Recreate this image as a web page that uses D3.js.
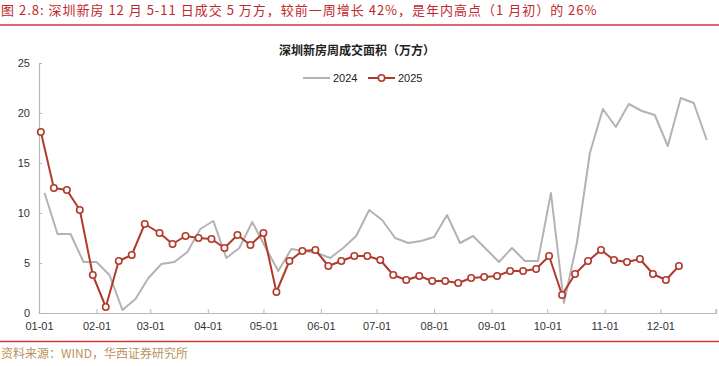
<!DOCTYPE html>
<html>
<head>
<meta charset="utf-8">
<script src="https://cdn.jsdelivr.net/npm/d3@7"></script>
<style>
  body { margin: 0; background: #fff; }
  svg { display: block; font-family: "Liberation Sans", Arial, sans-serif; }
</style>
</head>
<body>
<svg id="chart" width="719" height="366"></svg>
<script>
const W = 719;
const H = 366;

// weekly series, first week-end date of each year
const START_2024 = "2024-01-04";
const START_2025 = "2025-01-02";

const values2024 = [
  12.0, 7.9, 7.9, 5.1, 5.1, 3.8, 0.3, 1.4, 3.5, 4.9,
  5.1, 6.1, 8.4, 9.2, 5.5, 6.5, 9.1, 6.6, 4.2, 6.4,
  6.2, 6.0, 5.5, 6.5, 7.7, 10.3, 9.3, 7.5, 7.0, 7.2,
  7.6, 9.8, 7.0, 7.7, 6.4, 5.1, 6.5, 5.2, 5.2, 12.0,
  1.0, 7.0, 16.0, 20.4, 18.6, 20.9, 20.2, 19.8, 16.7, 21.5,
  21.0, 17.3
];

const values2025 = [
  18.1, 12.5, 12.3, 10.3, 3.8, 0.6, 5.2, 5.8, 8.9, 8.0,
  6.9, 7.7, 7.5, 7.4, 6.5, 7.8, 6.8, 8.0, 2.1, 5.2,
  6.2, 6.3, 4.7, 5.2, 5.7, 5.7, 5.3, 3.8, 3.3, 3.7,
  3.2, 3.2, 3.0, 3.5, 3.6, 3.7, 4.2, 4.2, 4.4, 5.7,
  1.8, 3.9, 5.2, 6.3, 5.3, 5.1, 5.4, 3.9, 3.3, 4.7
];

const yTicks = [0, 5, 10, 15, 20, 25];
const seriesNames = ["2024", "2025"];

const TITLE = "图 2.8:  深圳新房 12 月 5-11 日成交 5 万方，较前一周增长 42%，是年内高点（1 月初）的 26%";
const CHART_TITLE = "深圳新房周成交面积（万方）";
const SOURCE = "资料来源：WIND，华西证券研究所";

const RED = "#b23a2c";
const GRAY = "#b3b3b3";
const AXIS = "#b8b8b8";

const parse = d3.timeParse("%Y-%m-%d");

// put every week on the 2024 calendar (month/day kept)
function onAxisYear(d) {
  return new Date(2024, d.getMonth(), d.getDate());
}

function weekly(startStr, values) {
  const s = parse(startStr);
  return values.map((v, i) => ({ date: onAxisYear(d3.timeDay.offset(s, 7 * i)), value: v }));
}

const data2024 = weekly(START_2024, values2024);
const data2025 = weekly(START_2025, values2025);

const svg = d3.select("#chart");

const x = d3.scaleTime()
  .domain([new Date(2024, 0, 1), new Date(2024, 11, 31)])
  .range([39, 716]);
const y = d3.scaleLinear().domain([0, 25]).range([313, 63]);

// page title + rules
svg.append("text")
  .attr("x", 1).attr("y", 15)
  .attr("font-family", "'Noto Sans CJK SC', sans-serif")
  .attr("font-size", 13)
  .attr("letter-spacing", 1)
  .attr("fill", "#c0282d")
  .text(TITLE);
svg.append("line").attr("x1", 0).attr("x2", W).attr("y1", 25).attr("y2", 25)
  .attr("stroke", "#d9363e").attr("stroke-width", 1.3);
svg.append("line").attr("x1", 0).attr("x2", W).attr("y1", 341.5).attr("y2", 341.5)
  .attr("stroke", "#d9363e").attr("stroke-width", 1.3);

svg.append("text")
  .attr("x", 1).attr("y", 358)
  .attr("font-family", "'Noto Sans CJK SC', sans-serif")
  .attr("font-size", 12)
  .attr("fill", "#b8915e")
  .text(SOURCE);

// chart title
svg.append("text")
  .attr("x", 357).attr("y", 55)
  .attr("text-anchor", "middle")
  .attr("font-family", "'Noto Sans CJK SC', sans-serif")
  .attr("font-weight", 700)
  .attr("font-size", 12)
  .attr("fill", "#222")
  .text(CHART_TITLE);

// axes
const yAxis = d3.axisLeft(y).tickValues(yTicks).tickSize(-3).tickPadding(9);
const gy = svg.append("g").attr("transform", "translate(39,0)").call(yAxis);

const monthTicks = d3.timeMonth.range(new Date(2024, 0, 1), new Date(2024, 11, 2));
const xAxis = d3.axisBottom(x).tickValues(monthTicks).tickFormat(d3.timeFormat("%m-%d"))
  .tickSize(-4).tickPadding(9);
const gx = svg.append("g").attr("transform", "translate(0,313)").call(xAxis);
// closing tick at the end of the axis
gx.append("line").attr("x1", x.range()[1]).attr("x2", x.range()[1]).attr("y1", 0).attr("y2", -4)
  .attr("stroke", AXIS);

[gx, gy].forEach(g => {
  g.select(".domain").attr("stroke", AXIS).attr("stroke-width", 1.2);
  g.selectAll(".tick line").attr("stroke", AXIS);
  g.selectAll(".tick text").attr("fill", "#333").attr("font-size", 11)
    .attr("font-family", "'Liberation Sans', Arial, sans-serif");
});

// lines
const line = d3.line().x(d => x(d.date)).y(d => y(d.value));

svg.append("path").datum(data2024)
  .attr("fill", "none").attr("stroke", GRAY).attr("stroke-width", 2)
  .attr("stroke-linejoin", "round")
  .attr("d", line);

svg.append("path").datum(data2025)
  .attr("fill", "none").attr("stroke", RED).attr("stroke-width", 2)
  .attr("stroke-linejoin", "round")
  .attr("d", line);

svg.append("g").selectAll("circle")
  .data(data2025)
  .join("circle")
  .attr("cx", d => x(d.date))
  .attr("cy", d => y(d.value))
  .attr("r", 3.2)
  .attr("fill", "#fff")
  .attr("stroke", RED)
  .attr("stroke-width", 1.6);

// legend
const legend = svg.append("g").attr("font-size", 11).attr("fill", "#222");
legend.append("line").attr("x1", 303).attr("x2", 330).attr("y1", 78).attr("y2", 78)
  .attr("stroke", GRAY).attr("stroke-width", 2);
legend.append("text").attr("x", 333).attr("y", 82).text(seriesNames[0]);
legend.append("line").attr("x1", 368).attr("x2", 395).attr("y1", 78).attr("y2", 78)
  .attr("stroke", RED).attr("stroke-width", 2);
legend.append("circle").attr("cx", 381.5).attr("cy", 78).attr("r", 3.2)
  .attr("fill", "#fff").attr("stroke", RED).attr("stroke-width", 1.6);
legend.append("text").attr("x", 398).attr("y", 82).text(seriesNames[1]);
</script>
</body>
</html>
